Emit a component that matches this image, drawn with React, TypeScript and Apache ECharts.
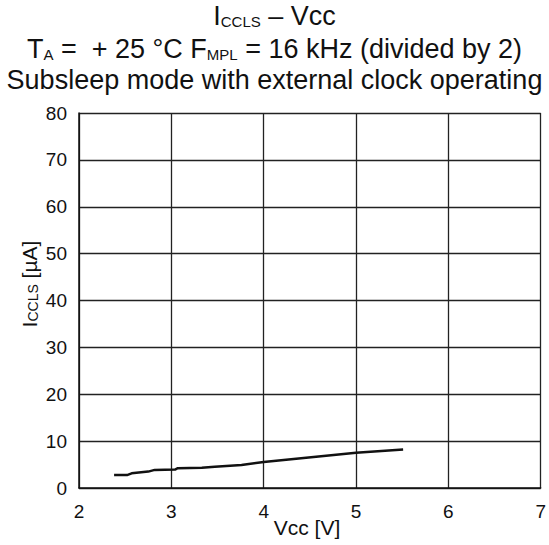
import React, { useEffect, useRef } from "react";
import * as echarts from "echarts";

const voltage = [2.38, 2.52, 2.57, 2.75, 2.82, 3.04, 3.07, 3.33, 3.47, 3.76, 4.0, 5.0, 5.51];
const current = [2.76, 2.76, 3.13, 3.5, 3.86, 3.94, 4.23, 4.3, 4.52, 4.89, 5.55, 7.52, 8.2];
const xTicks = [2, 3, 4, 5, 6, 7];
const yTicks = [0, 10, 20, 30, 40, 50, 60, 70, 80];

const FONT = "'Liberation Sans', Arial, Helvetica, sans-serif";

export default function App() {
  const ref = useRef<HTMLDivElement>(null);
  useEffect(() => {
    if (!ref.current) return;
    const chart = echarts.init(ref.current, null, { renderer: "svg" });
    const big = { fontSize: 27, fontWeight: "normal" as const, fontFamily: FONT, color: "#111", verticalAlign: "bottom" as const, lineHeight: 28 };
    const small = { fontSize: 15, fontWeight: "normal" as const, fontFamily: FONT, color: "#111", verticalAlign: "bottom" as const, lineHeight: 21 };
    const axN = { fontSize: 21, fontFamily: FONT, fill: "#111", verticalAlign: "bottom" as const, lineHeight: 24 };
    const axS = { fontSize: 14, fontFamily: FONT, fill: "#111", verticalAlign: "bottom" as const, lineHeight: 20 };
    chart.setOption({
      animation: false,
      backgroundColor: "#fff",
      title: [
        {
          text: "{n|I}{s|CCLS}{n| – Vcc}",
          left: "center",
          top: 1,
          padding: 0,
          textStyle: { rich: { n: big, s: small } },
        },
        {
          text: "{n|T}{s|A}{n| =  + 25 °C F}{s|MPL}{n| = 16 kHz (divided by 2)}",
          left: "center",
          top: 34,
          padding: 0,
          textStyle: { rich: { n: big, s: small } },
        },
        {
          text: "{n|Subsleep mode with external clock operating}",
          left: "center",
          top: 65,
          padding: 0,
          textStyle: { rich: { n: big, s: small } },
        },
      ],
      graphic: [
        {
          type: "text",
          x: 307,
          y: 527,
          style: {
            text: "Vcc [V]",
            fontSize: 21,
            fontFamily: FONT,
            fill: "#111",
            align: "center",
            verticalAlign: "middle",
          },
        },
        {
          type: "text",
          x: 28,
          y: 284,
          rotation: Math.PI / 2,
          style: {
            text: "{n|I}{s|CCLS}{n| [µA]}",
            rich: { n: axN, s: axS },
            align: "center",
            verticalAlign: "middle",
          },
        },
      ],
      grid: { left: 79, right: 8, top: 113, bottom: 57, containLabel: false },
      xAxis: {
        type: "value",
        min: xTicks[0],
        max: xTicks[xTicks.length - 1],
        interval: 1,
        axisLine: { show: true, lineStyle: { color: "#111", width: 1.5 } },
        axisTick: { show: false },
        axisLabel: { fontSize: 19, fontFamily: FONT, color: "#111", margin: 14 },
        splitLine: { show: true, lineStyle: { color: "#222", width: 1.3 } },
      },
      yAxis: {
        type: "value",
        min: yTicks[0],
        max: yTicks[yTicks.length - 1],
        interval: 10,
        axisLine: { show: true, lineStyle: { color: "#111", width: 1.5 } },
        axisTick: { show: false },
        axisLabel: { fontSize: 19, fontFamily: FONT, color: "#111", margin: 12 },
        splitLine: { show: true, lineStyle: { color: "#222", width: 1.3 } },
      },
      series: [
        {
          type: "line",
          data: voltage.map((v, i) => [v, current[i]]),
          symbol: "none",
          lineStyle: { color: "#111", width: 2.5 },
        },
      ],
    });
    return () => chart.dispose();
  }, []);
  return <div ref={ref} style={{ width: 549, height: 545, position: "absolute", left: 0, top: 0 }} />;
}
